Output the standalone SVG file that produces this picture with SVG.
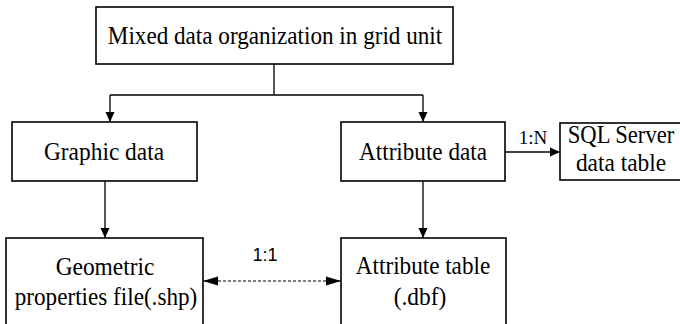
<svg xmlns="http://www.w3.org/2000/svg" width="680" height="324" viewBox="0 0 680 324">
<style>
.box{fill:#fff;stroke:#000;stroke-width:1.6}
.ln{fill:none;stroke:#000;stroke-width:1.3}
.dash{fill:none;stroke:#000;stroke-width:1.2;stroke-dasharray:3,2}
</style>
<defs>
<marker id="ah" viewBox="0 0 10 10" refX="10" refY="5" markerWidth="11" markerHeight="10" markerUnits="userSpaceOnUse" orient="auto-start-reverse">
<path d="M0,0.5 L10,5 L0,9.5 Z" fill="#000"/>
</marker>
<marker id="ad" viewBox="0 0 15 10" refX="15" refY="5" markerWidth="15" markerHeight="10" markerUnits="userSpaceOnUse" orient="auto-start-reverse">
<path d="M0,0.5 L15,5 L0,9.5 Z" fill="#000"/>
</marker>
</defs>
<g id="connectors">
<path class="ln" d="M274,64 V95 M110,95 H423"/>
<path class="ln" d="M110,95 V122" marker-end="url(#ah)"/>
<path class="ln" d="M423,95 V122" marker-end="url(#ah)"/>
<path class="ln" d="M505,152 H560" marker-end="url(#ah)"/>
<text x="533" y="144" font-family="Liberation Serif" font-size="19" text-anchor="middle">1:N</text>
<path class="ln" d="M105,181 V238" marker-end="url(#ah)"/>
<path class="ln" d="M423,181 V238" marker-end="url(#ah)"/>
<path class="dash" d="M203,281 H341" marker-start="url(#ad)" marker-end="url(#ad)"/>
<text x="265" y="261" font-family="Liberation Sans" font-size="18" text-anchor="middle">1:1</text>
</g>
<g id="top"><rect class="box" x="96" y="7" width="357" height="57"/><text transform="translate(275,44) scale(0.89,1)" font-family="Liberation Serif" font-size="26" text-anchor="middle">Mixed data organization in grid unit</text></g>
<g id="graphic"><rect class="box" x="12" y="122" width="185" height="59"/><text transform="translate(104,160) scale(0.9,1)" font-family="Liberation Serif" font-size="26" text-anchor="middle">Graphic data</text></g>
<g id="attribute"><rect class="box" x="341" y="122" width="164" height="59"/><text transform="translate(423,160) scale(0.89,1)" font-family="Liberation Serif" font-size="26" text-anchor="middle">Attribute data</text></g>
<g id="sql"><rect class="box" x="560" y="123" width="130" height="57"/><text transform="translate(621,143) scale(0.87,1)" font-family="Liberation Serif" font-size="26" text-anchor="middle">SQL Server</text><text transform="translate(621,171) scale(0.9,1)" font-family="Liberation Serif" font-size="26" text-anchor="middle">data table</text></g>
<g id="geometric"><rect class="box" x="6" y="238" width="197" height="100"/><text transform="translate(105,275) scale(0.9,1)" font-family="Liberation Serif" font-size="26" text-anchor="middle">Geometric</text><text transform="translate(106,305) scale(0.89,1)" font-family="Liberation Serif" font-size="26" text-anchor="middle">properties file(.shp)</text></g>
<g id="attrtable"><rect class="box" x="341" y="238" width="165" height="100"/><text transform="translate(423,274) scale(0.89,1)" font-family="Liberation Serif" font-size="26" text-anchor="middle">Attribute table</text><text transform="translate(420,305) scale(0.9,1)" font-family="Liberation Serif" font-size="26" text-anchor="middle">(.dbf)</text></g>
</svg>
